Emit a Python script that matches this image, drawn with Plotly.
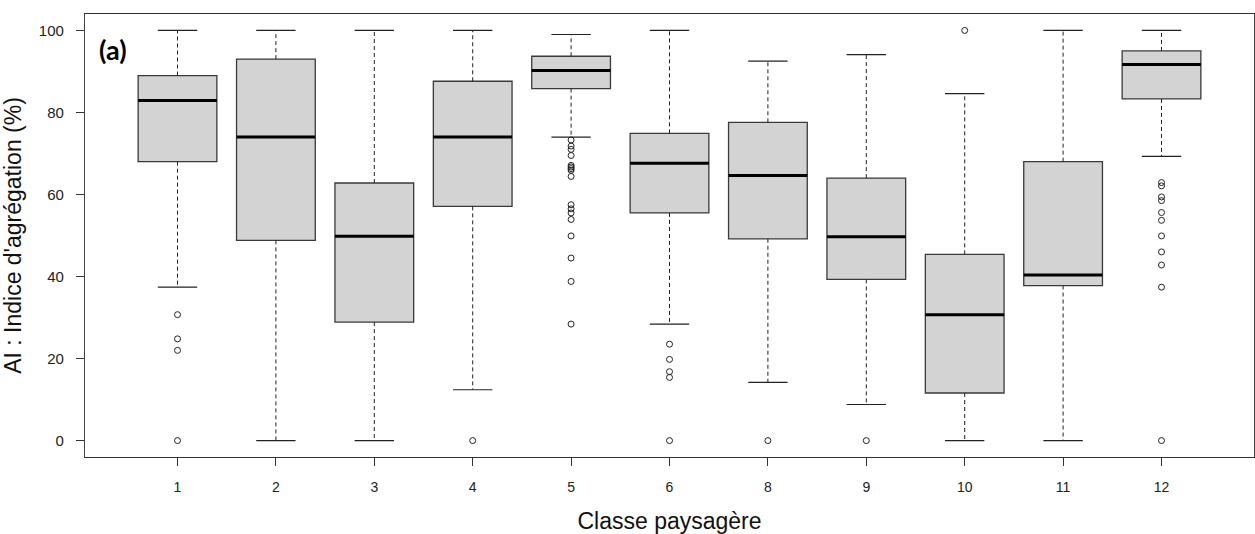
import plotly.graph_objects as go

# Landscape classes and boxplot statistics of the aggregation index (%)
classes = ["1", "2", "3", "4", "5", "6", "8", "9", "10", "11", "12"]
q1 = [68.0, 48.8, 28.9, 57.1, 85.8, 55.5, 49.2, 39.3, 11.6, 37.8, 83.3]
median = [82.9, 74.0, 49.8, 74.0, 90.2, 67.6, 64.6, 49.7, 30.7, 40.4, 91.7]
q3 = [89.0, 93.0, 62.8, 87.6, 93.7, 74.9, 77.6, 64.0, 45.4, 68.0, 95.0]
whisk_low = [37.4, 0.0, 0.0, 12.4, 74.0, 28.4, 14.2, 8.8, 0.0, 0.0, 69.3]
whisk_high = [100.0, 100.0, 100.0, 100.0, 99.0, 100.0, 92.5, 94.1, 84.6, 100.0, 100.0]
outliers = [
    [30.7, 24.8, 22.0, 0.0],
    [],
    [],
    [0.0],
    [73.3, 71.8, 71.0, 69.5, 67.1, 66.7, 66.3, 65.9, 64.4,
     57.5, 56.5, 55.5, 53.9, 49.9, 44.5, 38.8, 28.4],
    [23.5, 19.8, 16.8, 15.4, 0.0],
    [0.0],
    [0.0],
    [100.0],
    [],
    [62.9, 62.1, 59.4, 58.5, 55.6, 53.7, 49.9, 46.0, 42.8, 37.4, 0.0],
]
y_ticks = [0, 20, 40, 60, 80, 100]

pos = list(range(1, len(classes) + 1))
BOX_W = 0.8
CAP_W = 0.4
FONT = "Liberation Sans, Arial, sans-serif"

fig = go.Figure()

# Boxes (interquartile range)
fig.add_trace(go.Box(
    x=pos, q1=q1, median=median, q3=q3,
    lowerfence=q1, upperfence=q3,
    width=BOX_W, whiskerwidth=0,
    fillcolor="#d3d3d3", line=dict(color="#3a3a3a", width=1.3),
    boxpoints=False, showlegend=False, hoverinfo="skip",
))

# Dashed whiskers
wx, wy = [], []
for p, a, b, lo, hi in zip(pos, q1, q3, whisk_low, whisk_high):
    wx += [p, p, None, p, p, None]
    wy += [b, hi, None, a, lo, None]
fig.add_trace(go.Scatter(
    x=wx, y=wy, mode="lines",
    line=dict(color="#222222", width=1, dash="4px,3px"),
    showlegend=False, hoverinfo="skip",
))

# Whisker caps
cx, cy = [], []
for p, lo, hi in zip(pos, whisk_low, whisk_high):
    cx += [p - CAP_W / 2, p + CAP_W / 2, None, p - CAP_W / 2, p + CAP_W / 2, None]
    cy += [hi, hi, None, lo, lo, None]
fig.add_trace(go.Scatter(
    x=cx, y=cy, mode="lines",
    line=dict(color="#222222", width=1.2),
    showlegend=False, hoverinfo="skip",
))

# Thick medians
mx, my = [], []
for p, m in zip(pos, median):
    mx += [p - BOX_W / 2, p + BOX_W / 2, None]
    my += [m, m, None]
fig.add_trace(go.Scatter(
    x=mx, y=my, mode="lines",
    line=dict(color="#000000", width=3),
    showlegend=False, hoverinfo="skip",
))

# Outliers
ox, oy = [], []
for p, vals in zip(pos, outliers):
    ox += [p] * len(vals)
    oy += vals
fig.add_trace(go.Scatter(
    x=ox, y=oy, mode="markers",
    marker=dict(symbol="circle-open", size=6, color="#222222", line=dict(width=1)),
    showlegend=False, hoverinfo="skip",
))

fig.add_annotation(
    text="<b>(a)</b>", xref="paper", yref="paper", x=0.010, y=0.962,
    xanchor="left", yanchor="top", showarrow=False,
    font=dict(family="Lato, Open Sans, sans-serif", size=27, color="#000000"),
)

fig.update_layout(
    width=1255, height=534,
    margin=dict(l=85, r=1, t=14, b=77),
    paper_bgcolor="white", plot_bgcolor="white",
    font=dict(family=FONT, color="#222222"),
)
fig.update_xaxes(
    range=[0.06, 11.94], tickmode="array", tickvals=pos, ticktext=classes,
    ticks="outside", ticklen=8, tickcolor="#333333", tickwidth=1,
    tickfont=dict(size=14, color="#222222"), ticklabelstandoff=9,
    showgrid=False, zeroline=False,
    showline=True, linecolor="#333333", linewidth=1.3, mirror=True,
    title=dict(text="Classe paysagère", font=dict(size=23, color="#111111"), standoff=20),
)
fig.update_yaxes(
    range=[-4, 104], tickmode="array", tickvals=y_ticks,
    ticks="outside", ticklen=8, tickcolor="#333333", tickwidth=1,
    tickfont=dict(size=15, color="#222222"), ticklabelstandoff=9,
    showgrid=False, zeroline=False,
    showline=True, linecolor="#444444", linewidth=1.3, mirror=True,
    title=dict(text="AI : Indice d'agrégation (%)", font=dict(size=23, color="#111111"), standoff=11),
)

fig.write_html("out.html")
